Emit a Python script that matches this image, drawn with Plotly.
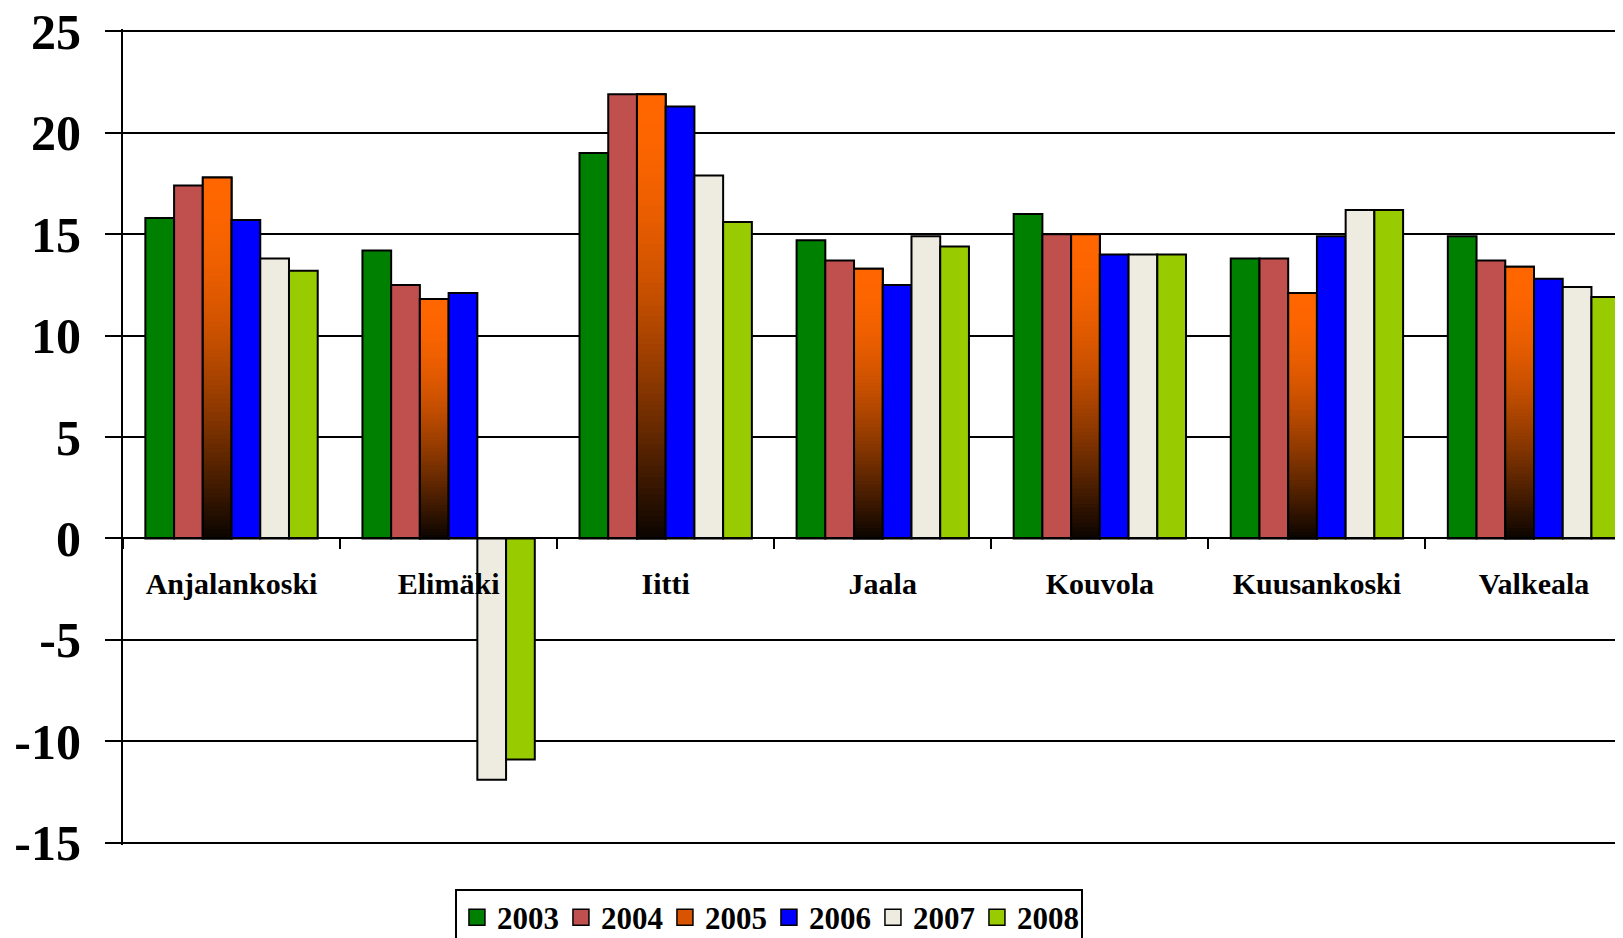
import math
import plotly.graph_objects as go

categories = ["Anjalankoski", "Elimäki", "Iitti", "Jaala", "Kouvola", "Kuusankoski", "Valkeala"]
years = ["2003", "2004", "2005", "2006", "2007", "2008"]
v2003 = [15.8, 14.2, 19.0, 14.7, 16.0, 13.8, 14.9]
v2004 = [17.4, 12.5, 21.9, 13.7, 15.0, 13.8, 13.7]
v2005 = [17.8, 11.8, 21.9, 13.3, 15.0, 12.1, 13.4]
v2006 = [15.7, 12.1, 21.3, 12.5, 14.0, 14.9, 12.8]
v2007 = [13.8, -11.9, 17.9, 14.9, 14.0, 16.2, 12.4]
v2008 = [13.2, -10.9, 15.6, 14.4, 14.0, 16.2, 11.9]
ytick_vals = [25, 20, 15, 10, 5, 0, -5, -10, -15]
ytick_text = ["25", "20", "15", "10", "5", "0", "-5", "-10", "-15"]

series = [v2003, v2004, v2005, v2006, v2007, v2008]
colors = ["#008000", "#C0504D", "#FF6600", "#0000FF", "#EEECE1", "#99CC00"]
legend_colors = ["#008000", "#C0504D", "#D85400", "#0000FF", "#EEECE1", "#99CC00"]

GROUP = 0.794
BW = GROUP / 6
FONT = "Liberation Serif"
YMIN, YMAX = -15.12, 25.12

fig = go.Figure()

def offset(k):
    return -GROUP / 2 + k * BW

for k, (yr, vals, col) in enumerate(zip(years, series, colors)):
    fig.add_trace(go.Bar(
        x=categories, y=vals, name=yr, offset=offset(k), width=BW, showlegend=False,
        marker=dict(color=col, line=dict(color="black", width=2)),
    ))
    if yr == "2005":
        N = 80
        for i in range(N):
            t = (i + 0.5) / N  # fraction from bottom
            f = 0.04 + 0.96 * math.sin(math.pi / 2 * t)
            c = "rgb(%d,%d,%d)" % (round(255 * f), round(102 * f), 0)
            span = min(2.0, N - i) / N
            fig.add_trace(go.Bar(
                x=categories, y=[v * span for v in vals], base=[v * i / N for v in vals],
                offset=offset(k), width=BW, showlegend=False, hoverinfo="skip",
                marker=dict(color=c, line=dict(width=0)),
            ))
        fig.add_trace(go.Bar(
            x=categories, y=vals, offset=offset(k), width=BW, showlegend=False,
            hoverinfo="skip",
            marker=dict(color="rgba(0,0,0,0)", line=dict(color="black", width=2)),
        ))

# legend entries
for yr, col in zip(years, legend_colors):
    fig.add_trace(go.Scatter(
        x=[None], y=[None], mode="markers", name=yr, showlegend=True,
        marker=dict(symbol="square", size=16, color=col, line=dict(color="black", width=1.5)),
    ))

fig.update_layout(
    width=1615, height=930,
    barmode="overlay",
    plot_bgcolor="white", paper_bgcolor="white",
    margin=dict(l=115, r=0, t=21, b=93, autoexpand=False),
    font=dict(family=FONT, color="black"),
    showlegend=True,
    legend=dict(
        orientation="h", x=0.2213, xanchor="left", y=-0.0535, yanchor="top",
        font=dict(family=FONT, size=31, weight="bold", color="black"),
        bordercolor="black", borderwidth=2, bgcolor="white",
        traceorder="normal", itemsizing="trace", entrywidth=59,
    ),
)
fig.update_xaxes(
    type="category", range=[-0.5, 6.41],
    anchor="free", position=(0 - YMIN) / (YMAX - YMIN),
    showline=True, linecolor="black", linewidth=2,
    ticks="outside", tickson="boundaries", ticklen=10, tickwidth=1.5, tickcolor="black",
    showgrid=False,
    tickfont=dict(family=FONT, size=30, weight="bold", color="black"),
    ticklabelstandoff=19,
)
fig.update_yaxes(
    range=[YMIN, YMAX], tickvals=ytick_vals, ticktext=ytick_text,
    showline=True, linecolor="black", linewidth=2,
    ticks="outside", ticklen=16, tickwidth=1.5, tickcolor="black",
    showgrid=True, gridcolor="black", gridwidth=1.5,
    zeroline=False,
    tickfont=dict(family=FONT, size=50, weight="bold", color="black"),
    ticklabelstandoff=14, ticklabeloverflow="allow",
)

fig.write_html("out.html")
